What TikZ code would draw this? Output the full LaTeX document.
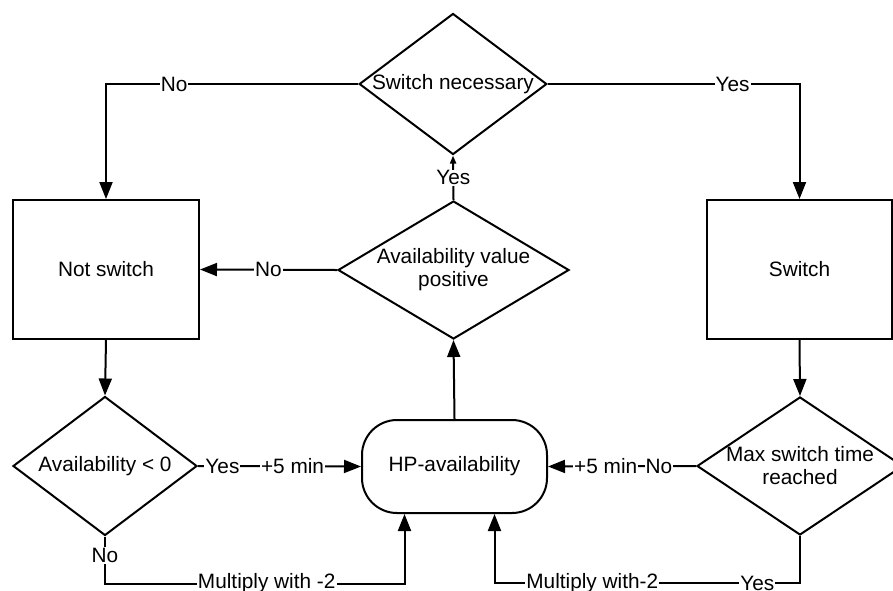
\documentclass[tikz,border=0pt]{standalone}
\usepackage{fontspec}
\setmainfont{Liberation Sans}
\usetikzlibrary{arrows.meta,shapes.geometric,positioning}

\begin{document}
\begin{tikzpicture}[x=1pt,y=-1pt,line width=2pt,
	every node/.style={font=\fontsize{20.8}{23}\selectfont},
	box/.style={shape=rectangle,draw,minimum width=186pt,minimum height=139pt},
	decision/.style={shape=diamond,draw,inner sep=0pt,align=center},
	lbl/.style={fill=white,inner sep=1pt},
	>={Triangle[length=17pt,width=13pt]}]
	\useasboundingbox (0,0) rectangle (893,590);
	\path (453,84) node (necessary) [decision,aspect=1.33,minimum width=184pt,minimum height=138pt] {Switch necessary}
		  (106,269.5) node (notswitch) [box] {Not switch}
		  (453.5,270) node (positive) [decision,aspect=1.67,minimum width=231pt,minimum height=138pt] {Availability value\\positive}
		  (799.5,269.5) node (switch) [box,minimum width=185pt] {Switch}
		  (105,466) node (negative) [decision,aspect=1.33,minimum width=184pt,minimum height=139pt] {Availability < 0}
		  (454.5,466.5) node (hp) [draw,rounded corners=35pt,minimum width=185pt,minimum height=93pt] {HP-availability}
		  (800,466) node (maxtime) [decision,aspect=1.49,minimum width=206pt,minimum height=138pt] {Max switch time\\reached};
	\draw[->] (necessary.west) -| (notswitch.north) node[lbl,pos=0.365] {No};
	\draw[->] (necessary.east) -| (switch.north) node[lbl,pos=0.367] {Yes};
	\draw[-{Triangle[length=8pt,width=6pt]}] (positive.north) -- (necessary.south) node[lbl,midway] {Yes};
	\draw[->] (positive.west) -- (notswitch.east) node[lbl,midway] {No};
	\draw[->] (hp.north) -- (positive.south);
	\draw[->] (notswitch.south) -- (negative.north);
	\draw[->] (switch.south) -- (maxtime.north);
	\draw[->] (negative.east) -- (hp.west) node[lbl,pos=0.15] {Yes} node[lbl,pos=0.58] {+5 min};
	\draw[->] (maxtime.west) -- (hp.east) node[lbl,pos=0.25] {No} node[lbl,pos=0.61] {+5 min};
	\draw[->] (negative.south) -- ++(0,47) node[lbl,pos=0.4] {No} -| ([xshift=-50pt]hp.south) node[lbl,pos=0.27] {Multiply with -2};
	\draw[->] (maxtime.south) -- ++(0,47) -| ([xshift=40pt]hp.south) node[lbl,pos=0.07] {Yes} node[lbl,pos=0.34] {Multiply with-2};
\end{tikzpicture}
\end{document}
